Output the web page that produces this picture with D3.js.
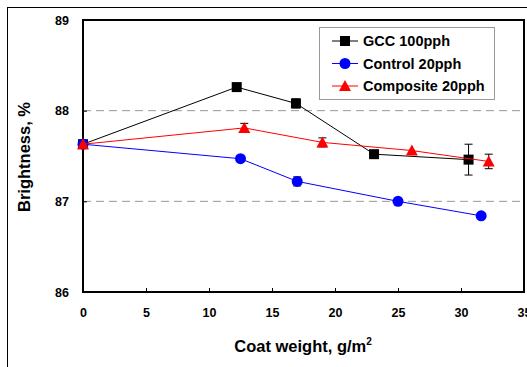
<!DOCTYPE html>
<html>
<head>
<meta charset="utf-8">
<script src="https://cdn.jsdelivr.net/npm/d3@7"></script>
<style>
  body { margin: 0; background: #fff; }
  text { font-family: "Liberation Sans", Arial, sans-serif; font-weight: bold; }
</style>
</head>
<body>
<script>
var seriesNames = ["GCC 100pph", "Control 20pph", "Composite 20pph"];
var seriesColors = ["#000000", "#0000ff", "#ff0000"];
var seriesShapes = ["square", "circle", "triangle"];

var gccX = [0, 12.2, 16.9, 23.1, 30.6];
var gccY = [87.63, 88.26, 88.08, 87.52, 87.46];
var gccErr = [0, 0, 0.05, 0.03, 0.17];

var controlX = [0, 12.5, 17.0, 25.0, 31.6];
var controlY = [87.63, 87.47, 87.22, 87.00, 86.84];
var controlErr = [0, 0.03, 0.05, 0, 0];

var compositeX = [0, 12.8, 19.0, 26.1, 32.2];
var compositeY = [87.63, 87.81, 87.65, 87.56, 87.44];
var compositeErr = [0, 0.05, 0.05, 0, 0.08];

var xTicks = [0, 5, 10, 15, 20, 25, 30, 35];
var yTicks = [86, 87, 88, 89];
var gridValues = [87, 88];

var series = [
  {x: gccX, y: gccY, e: gccErr},
  {x: controlX, y: controlY, e: controlErr},
  {x: compositeX, y: compositeY, e: compositeErr}
];

var svg = d3.select("body").append("svg")
    .attr("width", 527)
    .attr("height", 367);

// outer frame
svg.append("rect")
    .attr("x", 7.5).attr("y", 7.5)
    .attr("width", 530).attr("height", 370)
    .attr("fill", "none").attr("stroke", "#000").attr("stroke-width", 1);

var x = d3.scaleLinear().domain([0, 35]).range([83, 524]);
var y = d3.scaleLinear().domain([86, 89]).range([292, 20]);

// gridlines
svg.selectAll("line.grid")
    .data(gridValues)
    .enter().append("line")
    .attr("class", "grid")
    .attr("x1", x(0)).attr("x2", x(35))
    .attr("y1", function (d) { return y(d); })
    .attr("y2", function (d) { return y(d); })
    .attr("stroke", "#999").attr("stroke-dasharray", "8,5");

// plot border
svg.append("rect")
    .attr("x", x(0)).attr("y", y(89))
    .attr("width", x(35) - x(0)).attr("height", y(86) - y(89))
    .attr("fill", "none").attr("stroke", "#000").attr("stroke-width", 2);

// axes
var xAxis = svg.append("g")
    .attr("transform", "translate(0," + y(86) + ")")
    .call(d3.axisBottom(x).tickValues(xTicks).tickSize(-4).tickPadding(16).tickFormat(d3.format("d")));
var yAxis = svg.append("g")
    .attr("transform", "translate(" + x(0) + ",0)")
    .call(d3.axisLeft(y).tickValues(yTicks).tickSize(-4).tickPadding(14).tickFormat(d3.format("d")));
[xAxis, yAxis].forEach(function (a) {
  a.select(".domain").remove();
  a.selectAll("line").attr("stroke", "#000").attr("stroke-width", 1);
  a.selectAll("text").attr("font-size", 12.5).attr("font-weight", "bold")
      .attr("font-family", "Liberation Sans, Arial, sans-serif");
});

// axis titles
svg.append("text")
    .attr("x", 303).attr("y", 352)
    .attr("text-anchor", "middle").attr("font-size", 16.5)
    .text("Coat weight, g/m")
  .append("tspan")
    .attr("dy", -7).attr("font-size", 10).text("2");
svg.append("text")
    .attr("transform", "translate(30,157) rotate(-90)")
    .attr("text-anchor", "middle").attr("font-size", 16.5)
    .text("Brightness, %");

function drawMarker(g, shape, color, cx, cy) {
  if (shape === "square") {
    g.append("rect").attr("x", cx - 5).attr("y", cy - 5)
      .attr("width", 10).attr("height", 10).attr("fill", color);
  } else if (shape === "circle") {
    g.append("circle").attr("cx", cx).attr("cy", cy).attr("r", 5.5).attr("fill", color);
  } else {
    g.append("path")
      .attr("d", "M" + cx + "," + (cy - 6) + "L" + (cx + 6) + "," + (cy + 5) + "L" + (cx - 6) + "," + (cy + 5) + "Z")
      .attr("fill", color);
  }
}

var line = d3.line()
    .x(function (d) { return x(d[0]); })
    .y(function (d) { return y(d[1]); });

series.forEach(function (s, i) {
  var pts = s.x.map(function (v, j) { return [v, s.y[j], s.e[j]]; });
  var g = svg.append("g");
  g.append("path").datum(pts)
      .attr("d", line)
      .attr("fill", "none").attr("stroke", seriesColors[i]).attr("stroke-width", 1);
  // error bars
  g.selectAll("g.err")
      .data(pts.filter(function (d) { return d[2] > 0; }))
      .enter().append("g").attr("class", "err")
      .each(function (d) {
        var eg = d3.select(this);
        var cx = x(d[0]);
        eg.append("line").attr("x1", cx).attr("x2", cx)
          .attr("y1", y(d[1] + d[2])).attr("y2", y(d[1] - d[2]))
          .attr("stroke", "#000");
        [d[1] + d[2], d[1] - d[2]].forEach(function (v) {
          eg.append("line").attr("x1", cx - 4).attr("x2", cx + 4)
            .attr("y1", y(v)).attr("y2", y(v)).attr("stroke", "#000");
        });
      });
  pts.forEach(function (d) {
    drawMarker(g, seriesShapes[i], seriesColors[i], x(d[0]), y(d[1]));
  });
});

// legend
var legend = svg.append("g");
legend.append("rect")
    .attr("x", 319.5).attr("y", 27.5)
    .attr("width", 175).attr("height", 72)
    .attr("fill", "#fff").attr("stroke", "#999").attr("stroke-width", 1);
seriesNames.forEach(function (name, i) {
  var ly = 41 + i * 22.5;
  legend.append("line").attr("x1", 332).attr("x2", 358)
      .attr("y1", ly).attr("y2", ly).attr("stroke", seriesColors[i]);
  drawMarker(legend, seriesShapes[i], seriesColors[i], 345, ly);
  legend.append("text").attr("x", 363).attr("y", ly + 5)
      .attr("font-size", 14.5).text(name);
});
</script>
</body>
</html>
